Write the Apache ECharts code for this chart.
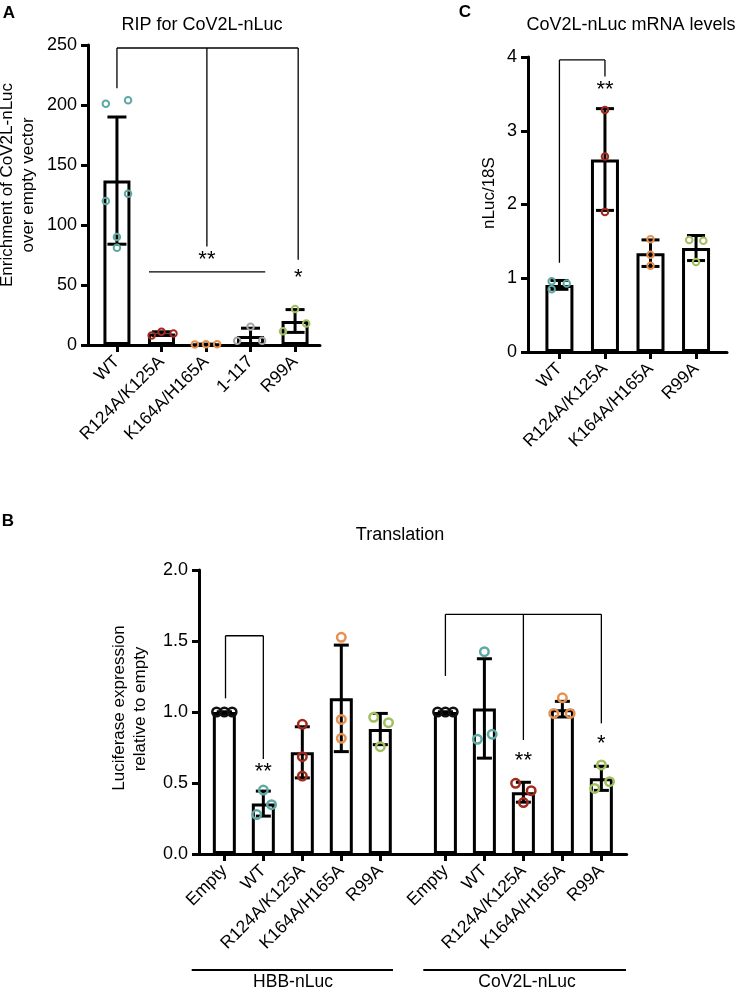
<!DOCTYPE html>
<html><head><meta charset="utf-8">
<script src="https://cdn.jsdelivr.net/npm/echarts@6/dist/echarts.min.js"></script>
<style>html,body{margin:0;padding:0;background:#fff}#c{width:736px;height:990px}</style>
</head><body><div id="c"></div>
<script>
// ---------- Panel A: RIP for CoV2L-nLuc ----------
const catsA = ['WT', 'R124A/K125A', 'K164A/H165A', '1-117', 'R99A'];
const meanA = [137, 9.5, 0.6, 7.5, 20];
const sdA = [53, 1.5, 0.1, 6.5, 9.5];
const ptsA = [[201, 204, 120, 126, 90, 81], [8, 11, 9.5], [0.5, 0.6, 0.6], [3.6, 15.3, 3.6], [11.5, 30, 18]];
const jitA = [[-0.25, 0.25, -0.25, 0.25, 0, 0], [-0.22, 0, 0.27], [-0.25, 0, 0.25], [-0.3, 0, 0.26], [-0.27, 0, 0.25]];
const yTicksA = [0, 50, 100, 150, 200, 250];
const bracketsA = [{ xs: [0, 2.02, 4.07], top: 247.5, ends: [214, 82, 71] }];
const hLinesA = [{ x1: 0.72, x2: 3.33, y: 61 }];
const starsA = [[2.02, 71, '**'], [4.07, 55.5, '*']];

// ---------- Panel C: CoV2L-nLuc mRNA levels ----------
const catsC = ['WT', 'R124A/K125A', 'K164A/H165A', 'R99A'];
const meanC = [0.91, 2.61, 1.34, 1.41];
const sdC = [0.06, 0.69, 0.18, 0.17];
const ptsC = [[0.96, 0.93, 0.85], [3.28, 2.65, 1.90], [1.53, 1.32, 1.17], [1.52, 1.51, 1.22]];
const jitC = [[-0.17, 0.16, -0.17], [0, 0, 0], [0, 0, 0], [-0.15, 0.16, 0]];
const yTicksC = [0, 1, 2, 3, 4];
const bracketsC = [{ xs: [0, 1], top: 3.96, ends: [1.21, 3.735] }];
const starsC = [[1, 3.56, '**']];

// ---------- Panel B: Translation ----------
const groupsB = ['HBB-nLuc', 'CoV2L-nLuc'];
const catsB = ['Empty', 'WT', 'R124A/K125A', 'K164A/H165A', 'R99A'];
const meanB = [[1.0, 0.355, 0.716, 1.096, 0.88], [1.0, 1.025, 0.435, 1.02, 0.533]];
const sdB = [[0, 0.088, 0.18, 0.375, 0.11], [0, 0.35, 0.07, 0.055, 0.085]];
const ptsB = [
  [[1, 1, 1], [0.45, 0.347, 0.278], [0.913, 0.685, 0.549], [1.526, 0.948, 0.815], [0.963, 0.925, 0.756]],
  [[1, 1, 1], [1.425, 0.808, 0.843], [0.498, 0.446, 0.362], [1.10, 0.99, 0.99], [0.627, 0.462, 0.509]]
];
const jitB = [
  [[-0.2, 0, 0.2], [0, 0.21, -0.17], [0, 0, 0], [0, 0, 0], [-0.17, 0.21, 0]],
  [[-0.2, 0, 0.2], [0, -0.18, 0.2], [-0.2, 0.2, 0], [0, -0.22, 0.2], [0, -0.17, 0.21]]
];
const yTicksB = [0, 0.5, 1.0, 1.5, 2.0];
// brackets: group index + category index
const bracketsB = [
  { g: 0, xs: [0.03, 1], top: 1.537, ends: [1.096, 0.669] },
  { g: 1, xs: [0, 2, 4], top: 1.688, ends: [1.254, 0.803, 0.92] }
];
const starsB = [[0, 1, 0.575, '**'], [1, 2, 0.652, '**'], [1, 4, 0.772, '*']];

// ---------- styles / layout ----------
const FONT = '"Liberation Sans", Arial, Helvetica, sans-serif';
const colA = ['#5ea9a2', '#a3291d', '#e8914e', '#a6a6a6', '#a2bf5f'];
const colC = ['#5ea9a2', '#a3291d', '#e8914e', '#a2bf5f'];
const colB = ['#111111', '#5ea9a2', '#a3291d', '#e8914e', '#a2bf5f'];
const GROUP_STEP = 5.67; // x offset of second group in panel B (category units)
const bx = (g, i) => g * GROUP_STEP + i;

const LBL = 17.5;

function xAxisDef(gi, min, max, ticks, fmt) {
  return {
    type: 'value', gridIndex: gi, min: min, max: max,
    axisLine: { show: true, onZero: false, lineStyle: { color: '#000', width: 3 } },
    axisTick: { show: true, customValues: ticks, length: 7, lineStyle: { color: '#000', width: 3 } },
    axisLabel: { show: true, customValues: ticks, formatter: fmt, rotate: 45, fontSize: LBL, fontFamily: FONT, color: '#000', margin: 14 },
    splitLine: { show: false }
  };
}
function yAxisDef(gi, ticks, fmt) {
  return {
    type: 'value', gridIndex: gi, min: ticks[0], max: ticks[ticks.length - 1], interval: ticks[1] - ticks[0],
    axisLine: { show: true, onZero: false, lineStyle: { color: '#000', width: 3 } },
    axisTick: { show: true, length: 7, lineStyle: { color: '#000', width: 3 } },
    axisLabel: { fontSize: LBL + 0.5, fontFamily: FONT, color: '#000', margin: 11, formatter: fmt },
    splitLine: { show: false }
  };
}
function barSeries(ai, data, bw) {
  return {
    type: 'bar', xAxisIndex: ai, yAxisIndex: ai, data: data, barWidth: bw, z: 1,
    itemStyle: { color: '#fff', borderColor: '#000', borderWidth: 3 }, silent: true, animation: false
  };
}
function errSeries(ai, data, cap) {
  return {
    type: 'custom', xAxisIndex: ai, yAxisIndex: ai, data: data, z: 2, animation: false, silent: true,
    encode: { x: 0, y: 1 },
    renderItem: function (params, api) {
      const x = api.value(0), m = api.value(1), s = api.value(2);
      const t = api.coord([x, m + s]), b = api.coord([x, m - s]);
      const st = { stroke: '#000', lineWidth: 3 };
      return {
        type: 'group', children: [
          { type: 'line', shape: { x1: t[0], y1: t[1], x2: b[0], y2: b[1] }, style: st },
          { type: 'line', shape: { x1: t[0] - cap, y1: t[1], x2: t[0] + cap, y2: t[1] }, style: st },
          { type: 'line', shape: { x1: b[0] - cap, y1: b[1], x2: b[0] + cap, y2: b[1] }, style: st }
        ]
      };
    }
  };
}
function ptSeries(ai, data, size, bw) {
  return {
    type: 'scatter', xAxisIndex: ai, yAxisIndex: ai, data: data, z: 3, symbol: 'circle', symbolSize: size,
    animation: false, silent: true,
    itemStyle: { color: 'rgba(0,0,0,0)', borderWidth: bw, opacity: 1 }
  };
}
function segSeries(ai, segs) {
  return {
    type: 'custom', xAxisIndex: ai, yAxisIndex: ai, data: segs, z: 4, animation: false, silent: true,
    encode: { x: [0, 2], y: [1, 3] },
    renderItem: function (params, api) {
      const a = api.coord([api.value(0), api.value(1)]), b = api.coord([api.value(2), api.value(3)]);
      return { type: 'line', shape: { x1: a[0], y1: a[1], x2: b[0], y2: b[1] }, style: { stroke: '#000', lineWidth: 1.3 } };
    }
  };
}
function starSeries(ai, stars) {
  return {
    type: 'custom', xAxisIndex: ai, yAxisIndex: ai, data: stars.map(s => [s[0], s[1]]), z: 4, animation: false, silent: true,
    encode: { x: 0, y: 1 },
    renderItem: function (params, api) {
      const p = api.coord([api.value(0), api.value(1)]);
      return { type: 'text', x: p[0], y: p[1], style: { text: stars[params.dataIndex][2], fill: '#000', font: '22px ' + FONT, align: 'center', verticalAlign: 'middle' } };
    }
  };
}
function bracketSegs(brs, xmap) {
  const segs = [];
  brs.forEach(br => {
    const xs = br.xs.map(v => xmap(br, v));
    segs.push([xs[0], br.top, xs[xs.length - 1], br.top]);
    xs.forEach((x, k) => segs.push([x, br.top, x, br.ends[k]]));
  });
  return segs;
}

// ---- build series data ----
const barA = meanA.map((m, i) => [i, m]);
const errA = meanA.map((m, i) => [i, m, sdA[i]]);
const dotA = [];
ptsA.forEach((arr, i) => arr.forEach((v, k) => dotA.push({ value: [i + jitA[i][k], v], itemStyle: { borderColor: colA[i] } })));
const segA = bracketSegs(bracketsA, (br, v) => v).concat(hLinesA.map(h => [h.x1, h.y, h.x2, h.y]));

const barC = meanC.map((m, i) => [i, m]);
const errC = meanC.map((m, i) => [i, m, sdC[i]]);
const dotC = [];
ptsC.forEach((arr, i) => arr.forEach((v, k) => dotC.push({ value: [i + jitC[i][k], v], itemStyle: { borderColor: colC[i] } })));
const segC = bracketSegs(bracketsC, (br, v) => v);

const barB = [], errB = [], dotB = [], ticksB = [];
groupsB.forEach((gname, g) => {
  catsB.forEach((c, i) => {
    ticksB.push(bx(g, i));
    barB.push([bx(g, i), meanB[g][i]]);
    errB.push([bx(g, i), meanB[g][i], sdB[g][i]]);
    ptsB[g][i].forEach((v, k) => dotB.push({ value: [bx(g, i) + jitB[g][i][k], v], itemStyle: { borderColor: colB[i] } }));
  });
});
const segB = bracketSegs(bracketsB, (br, v) => bx(br.g, v));
const starB2 = starsB.map(s => [bx(s[0], s[1]), s[2], s[3]]);

const labelB = v => {
  const g = v > GROUP_STEP - 0.5 ? 1 : 0;
  return catsB[Math.round(v - g * GROUP_STEP)];
};

const txt = (x, y, text, size, opts) => Object.assign({
  type: 'text', x: x, y: y, silent: true,
  style: { text: text, fill: '#000', font: (opts && opts.bold ? 'bold ' : '') + size + 'px ' + FONT, align: 'center', verticalAlign: 'middle' }
}, opts && opts.rot ? { rotation: Math.PI / 2 } : {});

const option = {
  animation: false,
  backgroundColor: '#fff',
  textStyle: { fontFamily: FONT },
  grid: [
    { left: 88, top: 45, width: 232, height: 300 },
    { left: 528, top: 57, width: 199, height: 295 },
    { left: 199, top: 570, width: 427.7, height: 284 }
  ],
  xAxis: [
    xAxisDef(0, -0.65, 4.56, [0, 1, 2, 3, 4], v => catsA[Math.round(v)]),
    xAxisDef(1, -0.69, 3.68, [0, 1, 2, 3], v => catsC[Math.round(v)]),
    xAxisDef(2, -0.65, 10.32, ticksB, labelB)
  ],
  yAxis: [
    yAxisDef(0, yTicksA, v => String(v)),
    yAxisDef(1, yTicksC, v => String(v)),
    yAxisDef(2, yTicksB, v => v.toFixed(1))
  ],
  series: [
    barSeries(0, barA, 27), errSeries(0, errA, 9.5), ptSeries(0, dotA, 6.5, 2), segSeries(0, segA), starSeries(0, starsA),
    barSeries(1, barC, 28), errSeries(1, errC, 9), ptSeries(1, dotC, 6.5, 2), segSeries(1, segC), starSeries(1, starsC),
    barSeries(2, barB, 23), errSeries(2, errB, 7.5), ptSeries(2, dotB, 8.5, 2.5), segSeries(2, segB), starSeries(2, starB2)
  ],
  graphic: [
    txt(9, 13, 'A', 17, { bold: true }),
    txt(465, 12, 'C', 17, { bold: true }),
    txt(8, 521, 'B', 17, { bold: true }),
    txt(202, 25, 'RIP for CoV2L-nLuc', 18),
    txt(631, 25, 'CoV2L-nLuc mRNA levels', 18),
    txt(400, 535, 'Translation', 18),
    txt(7, 185, 'Enrichment of CoV2L-nLuc', 17, { rot: true }),
    txt(28.5, 185, 'over empty vector', 17, { rot: true }),
    txt(489, 193, 'nLuc/18S', 17, { rot: true }),
    txt(119, 708, 'Luciferase expression', 17, { rot: true }),
    txt(140, 709, 'relative to empty', 17, { rot: true }),
    { type: 'line', silent: true, shape: { x1: 191.7, y1: 970, x2: 393, y2: 970 }, style: { stroke: '#000', lineWidth: 2 } },
    { type: 'line', silent: true, shape: { x1: 423.3, y1: 970, x2: 626, y2: 970 }, style: { stroke: '#000', lineWidth: 2 } },
    txt(293, 982, groupsB[0], 17.5),
    txt(527, 982, groupsB[1], 17.5)
  ]
};
const chart = echarts.init(document.getElementById('c'));
chart.setOption(option);
</script>
</body></html>
